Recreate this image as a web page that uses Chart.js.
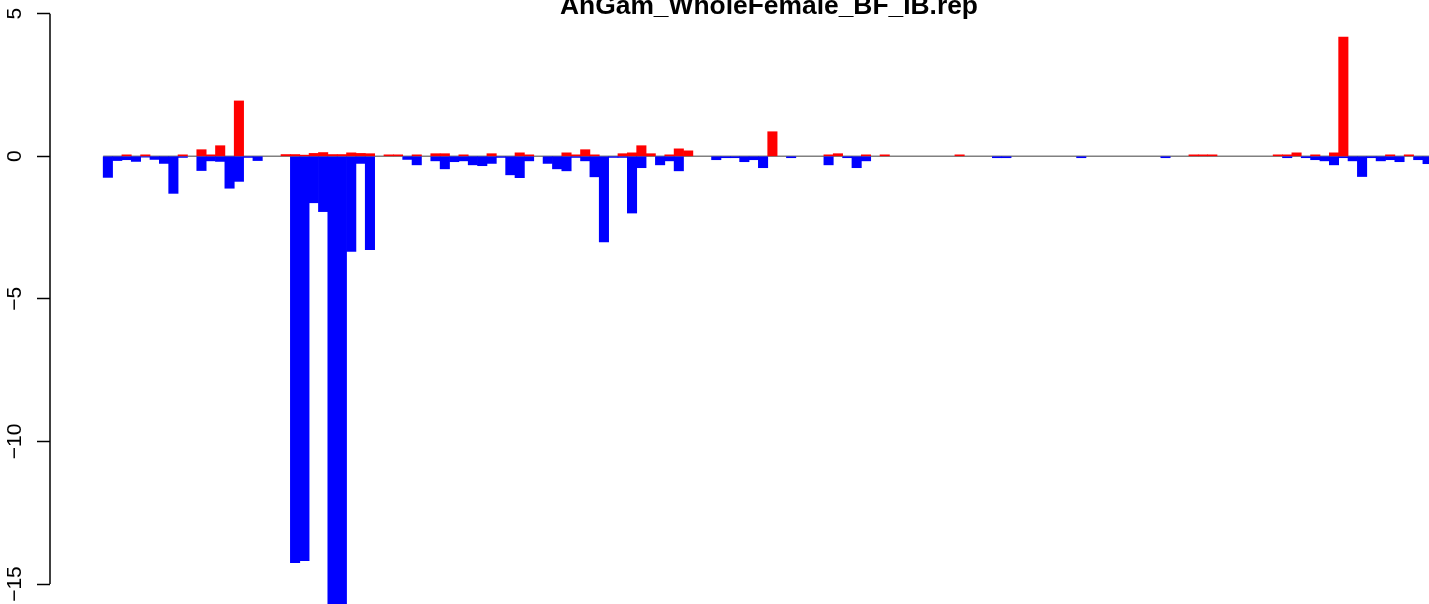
<!DOCTYPE html>
<html>
<head>
<meta charset="utf-8">
<script src="https://cdn.jsdelivr.net/npm/chart.js@4/dist/chart.umd.min.js"></script>
<style>
  html, body { margin: 0; padding: 0; background: #ffffff; overflow: hidden; }
  #wrap { position: relative; width: 1429px; height: 604px; }
</style>
</head>
<body>
<div id="wrap"><canvas id="c"></canvas></div>
<script>
const TITLE = "AnGam_WholeFemale_BF_IB.rep";
const TICKS = [5, 0, -5, -10, -15];

// positive scores (red), one per position
const RED = [
  0, 0, 0.05, 0, 0.05, 0, 0, 0, 0.05, 0,
  0.23, 0.05, 0.37, 0, 1.94, 0, 0, 0, 0, 0.06,
  0.06, 0.04, 0.10, 0.13, 0.06, 0.06, 0.12, 0.10, 0.09, 0,
  0.05, 0.05, 0, 0.05, 0, 0.09, 0.09, 0, 0.05, 0,
  0, 0.09, 0, 0, 0.12, 0.05, 0, 0, 0, 0.12,
  0.05, 0.23, 0.05, 0, 0, 0.09, 0.12, 0.37, 0.09, 0,
  0.05, 0.26, 0.19, 0, 0, 0, 0, 0, 0, 0,
  0, 0.86, 0, 0, 0, 0, 0, 0.05, 0.09, 0,
  0, 0.05, 0, 0.05, 0, 0, 0, 0, 0, 0,
  0, 0.05, 0, 0, 0, 0, 0, 0, 0, 0,
  0, 0, 0, 0, 0, 0, 0, 0, 0, 0,
  0, 0, 0, 0, 0, 0, 0.05, 0.05, 0.05, 0,
  0, 0, 0, 0, 0, 0.05, 0.05, 0.12, 0, 0.05,
  0, 0.12, 4.18, 0, 0, 0, 0, 0.05, 0, 0.05,
  0, 0
];

// negative scores (blue), one per position
const BLUE = [
  -0.74, -0.15, -0.12, -0.18, -0.03, -0.11, -0.25, -1.30, -0.04, 0,
  -0.50, -0.16, -0.18, -1.12, -0.88, -0.04, -0.15, 0, 0, 0,
  -14.25, -14.18, -1.63, -1.94, -16.0, -16.0, -3.34, -0.25, -3.27, 0,
  0, 0, -0.11, -0.30, 0, -0.16, -0.44, -0.19, -0.16, -0.30,
  -0.33, -0.25, -0.04, -0.65, -0.75, -0.16, 0, -0.25, -0.44, -0.51,
  -0.04, -0.16, -0.72, -3.00, -0.04, -0.04, -1.99, -0.40, 0, -0.30,
  -0.16, -0.51, 0, 0, 0, -0.12, -0.05, -0.05, -0.19, -0.12,
  -0.40, 0, 0, -0.05, 0, 0, 0, -0.30, 0, -0.05,
  -0.40, -0.16, 0, 0, 0, 0, 0, 0, 0, 0,
  0, 0, 0, 0, 0, -0.05, -0.05, 0, 0, 0,
  0, 0, 0, 0, -0.05, 0, 0, 0, 0, 0,
  0, 0, 0, -0.05, 0, 0, 0, 0, 0, 0,
  0, 0, 0, 0, 0, 0, -0.05, 0, -0.05, -0.12,
  -0.16, -0.30, -0.05, -0.16, -0.71, -0.05, -0.16, -0.12, -0.19, 0,
  -0.12, -0.26
];

const toPoints = arr => arr.map((v, i) => ({ x: i, y: v === 0 ? null : v }));

const zeroLine = {
  id: 'zeroLine',
  beforeDatasetsDraw(chart) {
    const { ctx, chartArea, scales } = chart;
    const y = scales.y.getPixelForValue(0);
    const x0 = scales.x.getPixelForValue(-0.5);
    ctx.save();
    ctx.strokeStyle = '#808080';
    ctx.lineWidth = 1.5;
    ctx.beginPath();
    ctx.moveTo(x0, y);
    ctx.lineTo(chartArea.right, y);
    ctx.stroke();
    ctx.restore();
  }
};

const rAxis = {
  id: 'rAxis',
  afterDraw(chart) {
    const { ctx, chartArea, scales } = chart;
    const ys = scales.y;
    ctx.save();
    // axis line spanning tick range
    ctx.strokeStyle = '#000';
    ctx.lineWidth = 1.5;
    ctx.beginPath();
    ctx.moveTo(chartArea.left, ys.getPixelForValue(Math.max(...TICKS)));
    ctx.lineTo(chartArea.left, ys.getPixelForValue(Math.min(...TICKS)));
    ctx.stroke();
    // rotated tick labels
    ctx.fillStyle = '#000';
    ctx.font = '21px "Liberation Sans", Arial, sans-serif';
    ctx.textAlign = 'center';
    ctx.textBaseline = 'alphabetic';
    TICKS.forEach(v => {
      const y = ys.getPixelForValue(v);
      ctx.save();
      ctx.translate(20.5, y);
      ctx.rotate(-Math.PI / 2);
      ctx.fillText(String(v).replace('-', '\u2212'), 0, 0);
      ctx.restore();
    });
    // title (partly cut off at the top)
    ctx.font = 'bold 26.4px "Liberation Sans", Arial, sans-serif';
    ctx.textAlign = 'center';
    ctx.fillText(TITLE, 769, 13.5);
    ctx.restore();
  }
};

new Chart(document.getElementById('c'), {
  type: 'bar',
  data: {
    datasets: [
      { label: 'pos', data: toPoints(RED), backgroundColor: '#ff0000', borderWidth: 0, inflateAmount: 0.35 },
      { label: 'neg', data: toPoints(BLUE), backgroundColor: '#0000ff', borderWidth: 0, inflateAmount: 0.35 }
    ]
  },
  options: {
    responsive: true,
    maintainAspectRatio: false,
    animation: false,
    layout: { padding: { left: 37, right: 0, top: 0, bottom: 0 } },
    plugins: { legend: { display: false }, tooltip: { enabled: false }, title: { display: false } },
    datasets: { bar: { barPercentage: 1, categoryPercentage: 1 } },
    scales: {
      x: {
        type: 'linear',
        stacked: true,
        offset: false,
        min: -6.184,
        max: 141.15,
        display: false
      },
      y: {
        stacked: true,
        min: -15.70,
        max: 5.48,
        afterBuildTicks: s => { s.ticks = TICKS.map(v => ({ value: v })); },
        ticks: { display: false },
        border: { display: false },
        grid: {
          display: true,
          drawOnChartArea: false,
          drawTicks: true,
          tickLength: 13,
          tickColor: '#000',
          tickWidth: 1.5
        }
      }
    }
  },
  plugins: [zeroLine, rAxis]
});
</script>
</body>
</html>
